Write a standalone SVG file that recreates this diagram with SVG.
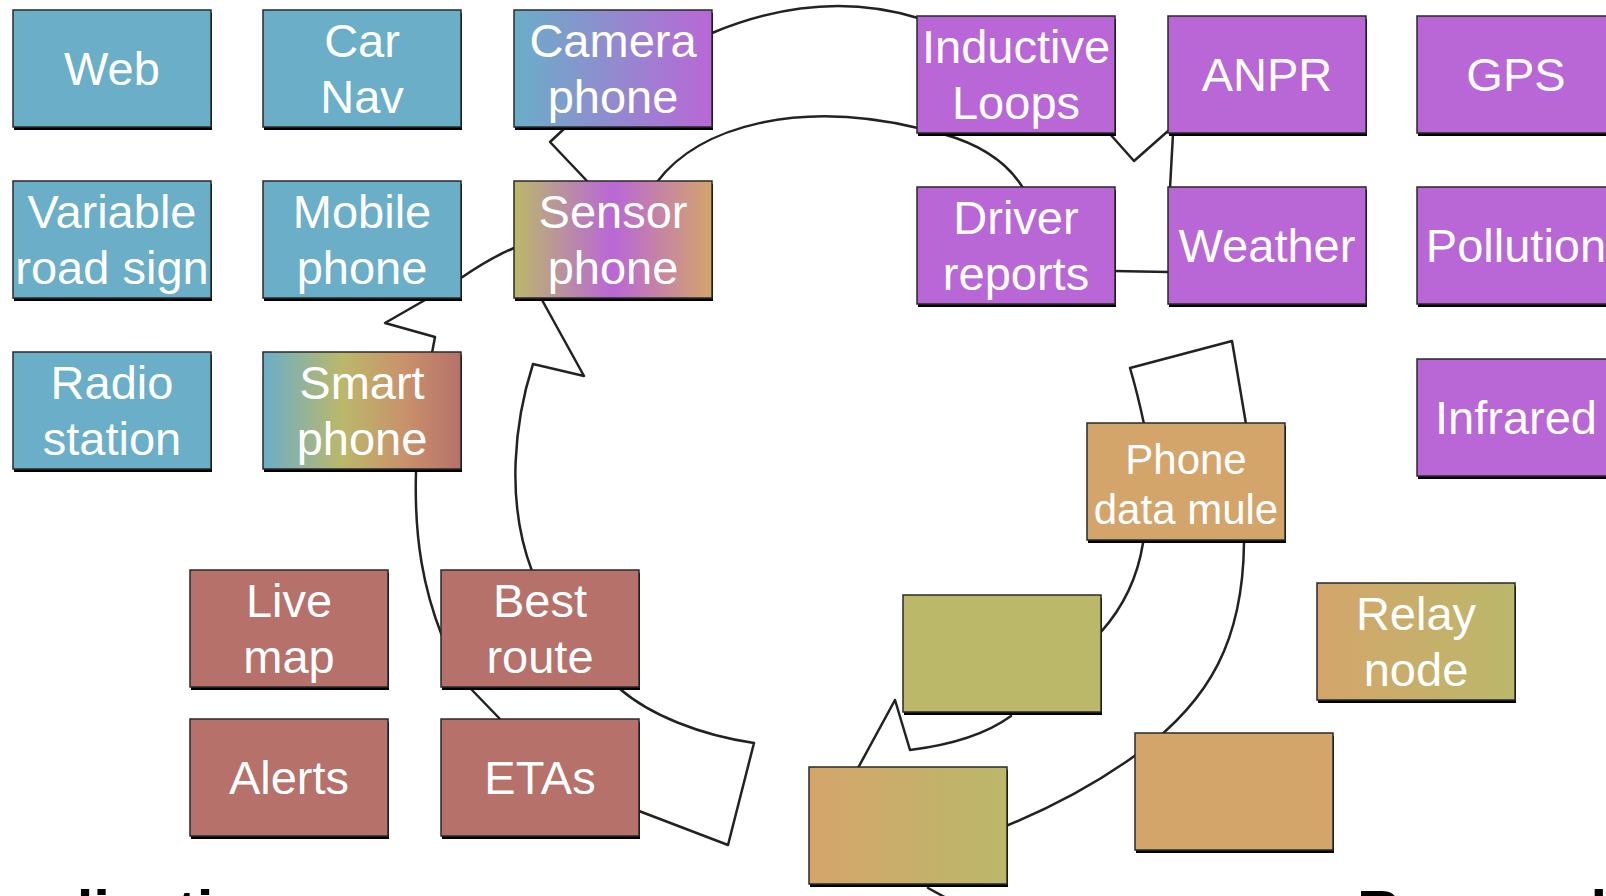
<svg xmlns="http://www.w3.org/2000/svg" width="1606" height="896" viewBox="0 0 1606 896">
<defs>
<style>
.sh{fill:#000}
.bx{stroke:#2a2a2a;stroke-width:1.5}
.blue{fill:#6aaec8}
.purple{fill:#b967d6}
.red{fill:#b5716a}
.orange{fill:#d4a56b}
.olive{fill:#bbb86a}
.t{fill:#fff;font-family:"Liberation Sans",Arial,sans-serif;font-size:47px;text-anchor:middle}
.t2{fill:#fff;font-family:"Liberation Sans",Arial,sans-serif;font-size:42px;text-anchor:middle}
.h{fill:#000;font-family:"Liberation Sans",Arial,sans-serif;font-size:60px;font-weight:bold}
.c{fill:none;stroke:#222;stroke-width:2.5;stroke-linejoin:round;stroke-linecap:round}
</style>
<linearGradient id="gCam" x1="0" y1="0" x2="1" y2="0">
<stop offset="0" stop-color="#6aaec8"/><stop offset="1" stop-color="#b967d6"/>
</linearGradient>
<linearGradient id="gSen" x1="0" y1="0" x2="1" y2="0">
<stop offset="0" stop-color="#bbb86a"/><stop offset="0.5" stop-color="#b967d6"/><stop offset="1" stop-color="#d4a56b"/>
</linearGradient>
<linearGradient id="gSm" x1="0" y1="0" x2="1" y2="0">
<stop offset="0" stop-color="#6aaec8"/><stop offset="0.4" stop-color="#bbb86a"/><stop offset="0.72" stop-color="#c9916b"/><stop offset="1" stop-color="#b5716a"/>
</linearGradient>
<linearGradient id="gOO" x1="0" y1="0" x2="1" y2="0">
<stop offset="0" stop-color="#d4a56b"/><stop offset="1" stop-color="#bbb86a"/>
</linearGradient>
</defs>
<rect width="1606" height="896" fill="#fff"/>

<g id="connectors">
<path class="c" d="M 712 33 Q 820 -12 918 18"/>
<path class="c" d="M 657 182 C 700 125, 800 100, 918 128"/>
<path class="c" d="M 943 134 Q 1000 150 1023 188"/>
<path class="c" d="M 1110 134 L 1134 161 L 1168 131"/>
<path class="c" d="M 1173 134 L 1170 188"/>
<path class="c" d="M 1114 271 L 1168 272"/>
<path class="c" d="M 565 128 L 550 142 L 588 182"/>
<path class="c" d="M 514 248 Q 490 258 461 278"/>
<path class="c" d="M 425 300 L 385 323 L 435 337 L 432 353"/>
<path class="c" d="M 542 300 L 584 376 L 533 364 C 515 420, 505 500, 532 571"/>
<path class="c" d="M 416 472 C 414 540, 424 590, 442 636"/>
<path class="c" d="M 471 689 L 500 719"/>
<path class="c" d="M 620 689 C 650 715, 700 735, 754 743 L 728 845 L 639 811"/>
<path class="c" d="M 1144 424 C 1140 405, 1135 385, 1130 368 L 1232 341 C 1237 370, 1242 400, 1246 424"/>
<path class="c" d="M 1143 543 C 1138 575, 1125 605, 1101 632"/>
<path class="c" d="M 1244 543 C 1243 640, 1210 700, 1140 752 C 1095 785, 1050 808, 1006 826"/>
<path class="c" d="M 1011 716 C 985 735, 950 745, 910 750 L 895 700 L 858 768"/>
<path class="c" d="M 928 888 L 950 900"/>
</g>

<g id="web"><rect class="sh" x="14" y="13" width="198" height="117"/><rect class="bx blue" x="13" y="10" width="198" height="117"/><text class="t" x="112" y="85">Web</text></g>
<g id="carnav"><rect class="sh" x="264" y="13" width="198" height="117"/><rect class="bx blue" x="263" y="10" width="198" height="117"/><text class="t" x="362" y="57">Car</text><text class="t" x="362" y="113">Nav</text></g>
<g id="cameraphone"><rect class="sh" x="515" y="13" width="198" height="117"/><rect class="bx" fill="url(#gCam)" x="514" y="10" width="198" height="117"/><text class="t" x="613" y="57">Camera</text><text class="t" x="613" y="113">phone</text></g>

<g id="variable"><rect class="sh" x="14" y="184" width="198" height="117"/><rect class="bx blue" x="13" y="181" width="198" height="117"/><text class="t" x="112" y="228">Variable</text><text class="t" x="112" y="284">road sign</text></g>
<g id="mobile"><rect class="sh" x="264" y="184" width="198" height="117"/><rect class="bx blue" x="263" y="181" width="198" height="117"/><text class="t" x="362" y="228">Mobile</text><text class="t" x="362" y="284">phone</text></g>
<g id="sensorphone"><rect class="sh" x="515" y="184" width="198" height="117"/><rect class="bx" fill="url(#gSen)" x="514" y="181" width="198" height="117"/><text class="t" x="613" y="228">Sensor</text><text class="t" x="613" y="284">phone</text></g>

<g id="radio"><rect class="sh" x="14" y="355" width="198" height="117"/><rect class="bx blue" x="13" y="352" width="198" height="117"/><text class="t" x="112" y="399">Radio</text><text class="t" x="112" y="455">station</text></g>
<g id="smartphone"><rect class="sh" x="264" y="355" width="198" height="117"/><rect class="bx" fill="url(#gSm)" x="263" y="352" width="198" height="117"/><text class="t" x="362" y="399">Smart</text><text class="t" x="362" y="455">phone</text></g>

<g id="inductive"><rect class="sh" x="918" y="19" width="198" height="117"/><rect class="bx purple" x="917" y="16" width="198" height="117"/><text class="t" x="1016" y="63">Inductive</text><text class="t" x="1016" y="119">Loops</text></g>
<g id="anpr"><rect class="sh" x="1169" y="19" width="198" height="117"/><rect class="bx purple" x="1168" y="16" width="198" height="117"/><text class="t" x="1267" y="91">ANPR</text></g>
<g id="gps"><rect class="sh" x="1418" y="19" width="198" height="117"/><rect class="bx purple" x="1417" y="16" width="198" height="117"/><text class="t" x="1516" y="91">GPS</text></g>

<g id="driver"><rect class="sh" x="918" y="190" width="198" height="117"/><rect class="bx purple" x="917" y="187" width="198" height="117"/><text class="t" x="1016" y="234">Driver</text><text class="t" x="1016" y="290">reports</text></g>
<g id="weather"><rect class="sh" x="1169" y="190" width="198" height="117"/><rect class="bx purple" x="1168" y="187" width="198" height="117"/><text class="t" x="1267" y="262">Weather</text></g>
<g id="pollution"><rect class="sh" x="1418" y="190" width="198" height="117"/><rect class="bx purple" x="1417" y="187" width="198" height="117"/><text class="t" x="1516" y="262">Pollution</text></g>
<g id="infrared"><rect class="sh" x="1418" y="362" width="198" height="117"/><rect class="bx purple" x="1417" y="359" width="198" height="117"/><text class="t" x="1516" y="434">Infrared</text></g>

<g id="phonemule"><rect class="sh" x="1088" y="426" width="198" height="117"/><rect class="bx orange" x="1087" y="423" width="198" height="117"/><text class="t2" x="1186" y="474">Phone</text><text class="t2" x="1186" y="524">data mule</text></g>
<g id="relay"><rect class="sh" x="1318" y="586" width="198" height="117"/><rect class="bx" fill="url(#gOO)" x="1317" y="583" width="198" height="117"/><text class="t" x="1416" y="630">Relay</text><text class="t" x="1416" y="686">node</text></g>
<g id="olivebox"><rect class="sh" x="904" y="598" width="198" height="117"/><rect class="bx olive" x="903" y="595" width="198" height="117"/></g>
<g id="orangebox"><rect class="sh" x="1136" y="736" width="198" height="117"/><rect class="bx orange" x="1135" y="733" width="198" height="117"/></g>
<g id="gradbox"><rect class="sh" x="810" y="770" width="198" height="117"/><rect class="bx" fill="url(#gOO)" x="809" y="767" width="198" height="117"/></g>

<g id="livemap"><rect class="sh" x="191" y="573" width="198" height="117"/><rect class="bx red" x="190" y="570" width="198" height="117"/><text class="t" x="289" y="617">Live</text><text class="t" x="289" y="673">map</text></g>
<g id="bestroute"><rect class="sh" x="442" y="573" width="198" height="117"/><rect class="bx red" x="441" y="570" width="198" height="117"/><text class="t" x="540" y="617">Best</text><text class="t" x="540" y="673">route</text></g>
<g id="alerts"><rect class="sh" x="191" y="722" width="198" height="117"/><rect class="bx red" x="190" y="719" width="198" height="117"/><text class="t" x="289" y="794">Alerts</text></g>
<g id="etas"><rect class="sh" x="442" y="722" width="198" height="117"/><rect class="bx red" x="441" y="719" width="198" height="117"/><text class="t" x="540" y="794">ETAs</text></g>

<text class="h" x="-40" y="932">Applications</text>
<text class="h" x="1357" y="932">Research</text>
</svg>
